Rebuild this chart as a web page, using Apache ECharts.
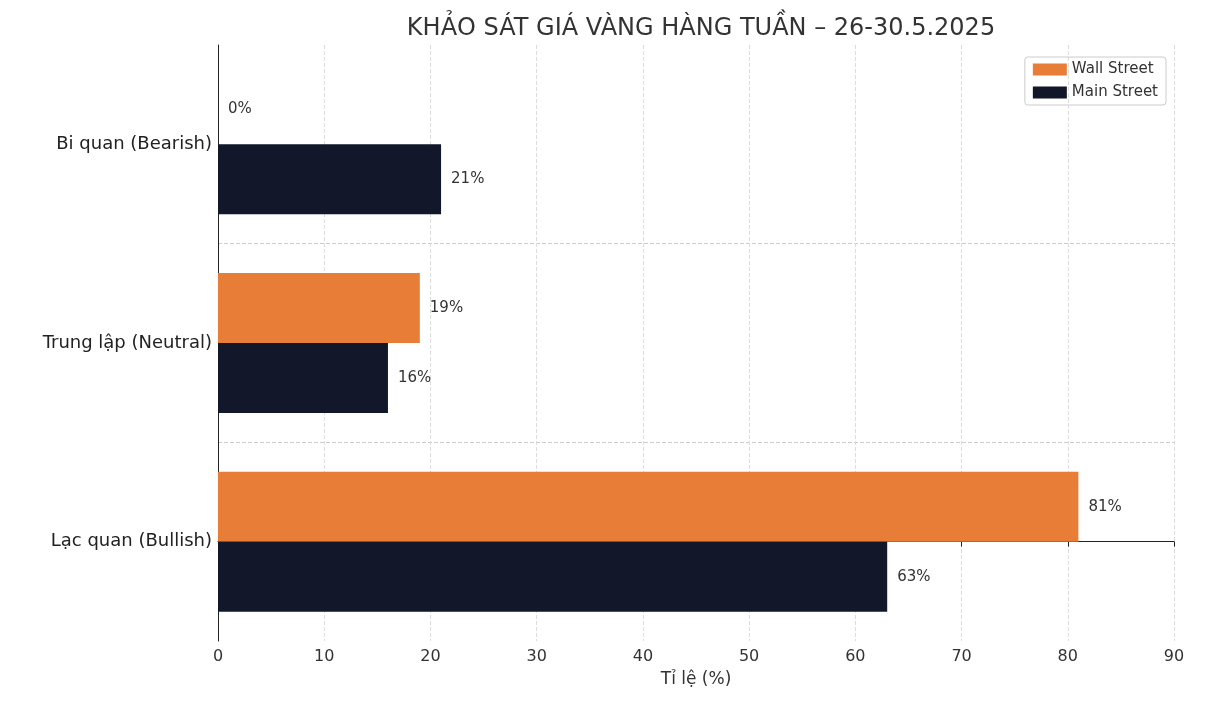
<!DOCTYPE html>
<html><head><meta charset="utf-8">
<script src="https://cdn.jsdelivr.net/npm/echarts@6/dist/echarts.min.js"></script>
<style>html,body{margin:0;padding:0;background:#fff}#main{width:1216px;height:704px}</style>
</head><body><div id="main"></div>
<script>
const categories = ["Bi quan (Bearish)", "Trung lập (Neutral)", "Lạc quan (Bullish)"];
const wallStreet = [0, 19, 81];
const mainStreet = [21, 16, 63];
const xTicks = [0, 10, 20, 30, 40, 50, 60, 70, 80, 90];

const chart = echarts.init(document.getElementById("main"));
const font = "DejaVu Sans";
chart.setOption({
  textStyle: { fontFamily: font },
  animation: false,
  title: {
    text: "KHẢO SÁT GIÁ VÀNG HÀNG TUẦN – 26-30.5.2025",
    left: 696, top: 12, textAlign: "center",
    textStyle: { fontSize: 24, fontWeight: "normal", color: "#333", fontFamily: font }
  },
  legend: {
    right: 50, top: 57, orient: "vertical", itemWidth: 34, itemHeight: 12, itemGap: 8,
    borderColor: "#ccc", borderWidth: 1, borderRadius: 3, padding: [5, 8],
    icon: "rect", textStyle: { fontSize: 15, color: "#333" },
    data: ["Wall Street", "Main Street"]
  },
  grid: { left: 218, right: 42, top: 45, bottom: 63 },
  xAxis: {
    type: "value", min: xTicks[0], max: xTicks[xTicks.length - 1], interval: 10,
    name: "Tỉ lệ (%)", nameLocation: "middle", nameGap: 30,
    nameTextStyle: { fontSize: 17, color: "#333" },
    axisLine: { show: true, lineStyle: { color: "#222" } },
    axisTick: { show: true, length: 5, lineStyle: { color: "#222" } },
    axisLabel: { fontSize: 16, color: "#333", margin: 8 },
    splitLine: { lineStyle: { color: "#ddd", type: "dashed" } }
  },
  yAxis: [{
    type: "category", data: categories, inverse: true,
    axisLine: { show: true, lineStyle: { color: "#222" } },
    axisTick: { show: false },
    axisLabel: { fontSize: 18, color: "#222", margin: 6 },
    splitLine: { show: false }
  }, {
    type: "value", min: -1, max: 5, interval: 2, position: "right",
    axisLine: { show: false }, axisTick: { show: false }, axisLabel: { show: false },
    splitLine: { show: true, showMinLine: false, showMaxLine: false, lineStyle: { color: "#ccc", type: "dashed" } }
  }],
  series: [{
    name: "Wall Street", type: "bar", data: wallStreet, barWidth: 70, barGap: "0%",
    itemStyle: { color: "#e87d38" },
    label: { show: true, position: "right", distance: 10, formatter: "{c}%", fontSize: 15, color: "#333" }
  }, {
    name: "Main Street", type: "bar", data: mainStreet, barWidth: 70, barGap: "0%",
    itemStyle: { color: "#121729" },
    label: { show: true, position: "right", distance: 10, formatter: "{c}%", fontSize: 15, color: "#333" }
  }]
});
</script></body></html>
